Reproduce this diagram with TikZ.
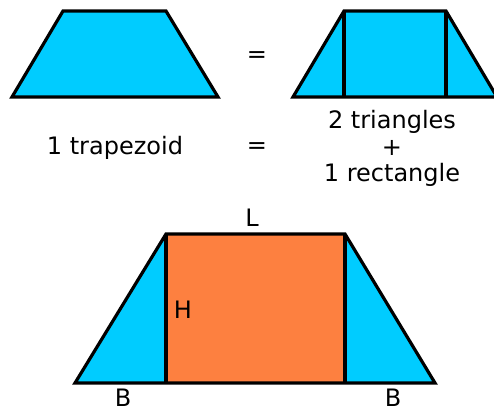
\documentclass[tikz,border=0pt]{standalone}
\usepackage{fontspec}
\setmainfont{DejaVu Sans}
\definecolor{tcyan}{RGB}{0,204,255}
\definecolor{torange}{RGB}{253,128,64}
\begin{document}
\begin{tikzpicture}[x=1pt,y=-1pt,
  figshape/.style={draw=black,line width=3.2pt,line join=miter},
  lbl/.style={font=\fontsize{24}{27}\selectfont,inner sep=0pt}]
\useasboundingbox (0,0) rectangle (494,413);
% top-left trapezoid
\filldraw[figshape,fill=tcyan] (12,97) -- (63,11) -- (166,11) -- (218,97) -- cycle;
% top-right split trapezoid
\filldraw[figshape,fill=tcyan] (293,97) -- (344,11) -- (446,11) -- (497,97) -- cycle;
\draw[figshape] (344,11) -- (344,97);
\draw[figshape] (446,11) -- (446,97);
% labels
\node[lbl] (eq1) at (257,57) {=};
\node[lbl] (trap) at (115,148) {1 trapezoid};
\node[lbl] (eq2) at (257,148) {=};
\node[lbl] (tri) at (392,122) {2 triangles};
\node[lbl] (plus) at (392,148) {+};
\node[lbl] (rect) at (392,175) {1 rectangle};
% bottom trapezoid: fills, then outline
\fill[tcyan] (75,383) -- (166,234) -- (345,234) -- (435,383) -- cycle;
\fill[torange] (166,234) rectangle (345,383);
\draw[figshape] (75,383) -- (166,234) -- (345,234) -- (435,383) -- cycle;
\draw[figshape] (166,234) -- (166,383);
\draw[figshape] (345,234) -- (345,383);
\node[lbl] (L) at (252,218) {L};
\node[lbl] (H) at (183,310) {H};
\node[lbl] (B1) at (123,398) {B};
\node[lbl] (B2) at (393,398) {B};
\end{tikzpicture}
\end{document}
